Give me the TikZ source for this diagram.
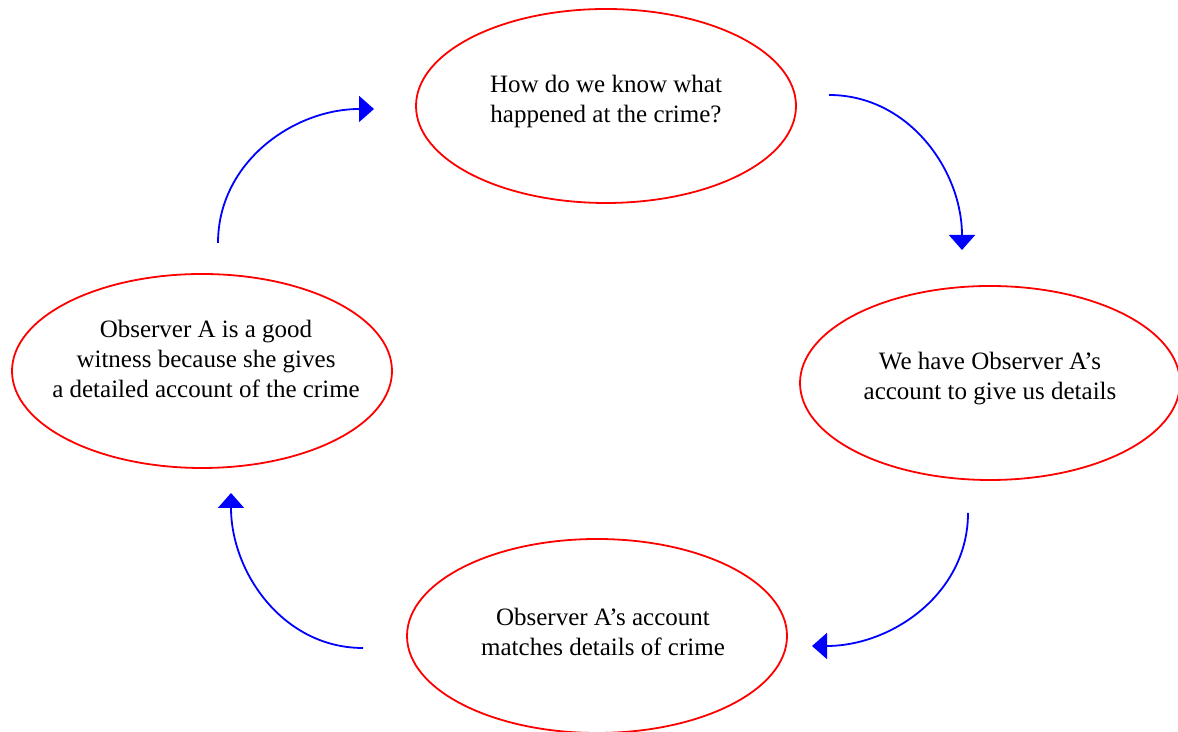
\documentclass[tikz,border=0pt]{standalone}
\usepackage{fontspec}
\setmainfont{Liberation Serif}
\usetikzlibrary{shapes.geometric,arrows.meta}
\tikzstyle{bubble} = [draw=red, line width=0.9pt, ellipse, minimum width=190pt, minimum height=97pt, inner sep=0pt]
\tikzstyle{txt} = [align=center, font=\fontsize{12.5}{15}\selectfont]
\tikzstyle{flow} = [draw=blue, line width=0.9pt, -{Triangle[length=7.5pt,width=13pt]}]

\begin{document}
\begin{tikzpicture}[x=0.5pt, y=0.5pt]
    \useasboundingbox (0,0) rectangle (1178,732);
    \node[bubble] (how) at (606,626) {};
    \node[bubble] (have) at (990,349) {};
    \node[bubble] (match) at (597,96) {};
    \node[bubble] (good) at (202,361) {};
    \node[txt] (how-t) at ([yshift=2pt]how) {How do we know what\\happened at the crime?};
    \node[txt] (have-t) at ([yshift=2pt]have) {We have Observer A's\\account to give us details};
    \node[txt] (match-t) at ([xshift=3pt,yshift=2pt]match) {Observer A's account\\matches details of crime};
    \node[txt] (good-t) at ([xshift=2pt,yshift=6pt]good) {Observer A is a good\\witness because she gives\\a detailed account of the crime};
    % arrow ends
    \coordinate (s1) at (218,489);
    \coordinate (e1) at (374,623);
    \coordinate (s2) at (829,637);
    \coordinate (e2) at (962,482);
    \coordinate (s3) at (968,219);
    \coordinate (e3) at (812,86);
    \coordinate (s4) at (363,84);
    \coordinate (e4) at (231,239);
    \draw[flow] (s1) to[out=90, in=180] (e1);
    \draw[flow] (s2) to[out=0, in=90] (e2);
    \draw[flow] (s3) to[out=-90, in=0] (e3);
    \draw[flow] (s4) to[out=180, in=-90] (e4);
\end{tikzpicture}
\end{document}
